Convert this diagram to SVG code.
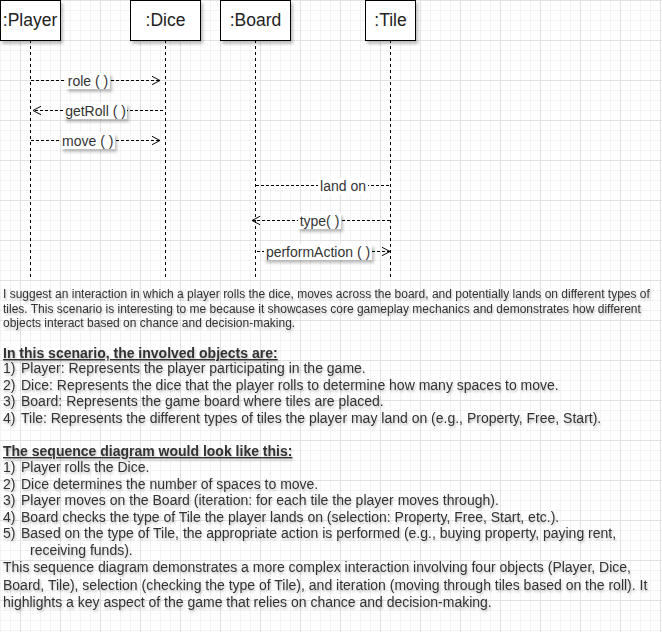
<svg xmlns="http://www.w3.org/2000/svg" width="662" height="632" viewBox="0 0 662 632">
<defs>
<pattern id="grid" width="40" height="40" patternUnits="userSpaceOnUse">
<path d="M0.5 0V40M10.5 0V40M30.5 0V40M0 10.5H40M0 20.5H40M0 30.5H40" stroke="#f3f3f3" stroke-width="1" fill="none"/>
<path d="M20.5 0V40M0 0.5H40" stroke="#e2e2e2" stroke-width="1" fill="none"/>
</pattern>
<filter id="sh" x="-20%" y="-20%" width="150%" height="160%">
<feDropShadow dx="2" dy="3" stdDeviation="1.5" flood-color="#000" flood-opacity="0.25"/>
</filter>
<filter id="tsh" x="-5%" y="-30%" width="110%" height="180%">
<feDropShadow dx="1" dy="2" stdDeviation="1" flood-color="#000" flood-opacity="0.25"/>
</filter>
<marker id="open" viewBox="0 0 10 10" refX="9" refY="5" markerWidth="10" markerHeight="10" markerUnits="userSpaceOnUse" orient="auto">
<path d="M1 0.8L9 5L1 9.2" fill="none" stroke="#000" stroke-width="1"/>
</marker>
<style>
.box{fill:#fff;stroke:#000;stroke-width:1;filter:url(#sh)}
.hd{font-family:"Liberation Sans",Arial,sans-serif;font-size:17.5px;fill:#222;text-anchor:middle}
.life{stroke:#000;stroke-width:1;stroke-dasharray:3 3;fill:none}
.msg{stroke:#000;stroke-width:1;stroke-dasharray:3 2;fill:none}
.lbg{fill:#fff;filter:url(#sh)}
.lbl{font-family:"Liberation Sans",Arial,sans-serif;font-size:14px;fill:#333;text-anchor:middle}
.body{font-family:"Liberation Sans",Arial,sans-serif;font-size:14px;fill:#333;filter:url(#tsh)}
.small{font-size:12px}
.h{font-weight:bold;text-decoration:underline}
</style>
</defs>
<rect width="662" height="632" fill="#fff"/>
<rect width="662" height="632" fill="url(#grid)"/>

<g id="player">
<line class="life" x1="30.5" y1="40" x2="30.5" y2="279"/>
<rect class="box" x="0.5" y="0.5" width="60" height="40"/>
<text class="hd" x="30" y="26">:Player</text>
</g>
<g id="dice">
<line class="life" x1="165.5" y1="40" x2="165.5" y2="279"/>
<rect class="box" x="130.5" y="0.5" width="70" height="40"/>
<text class="hd" x="165.5" y="26">:Dice</text>
</g>
<g id="board">
<line class="life" x1="255.5" y1="40" x2="255.5" y2="279"/>
<rect class="box" x="220.5" y="0.5" width="70" height="40"/>
<text class="hd" x="255.5" y="26">:Board</text>
</g>
<g id="tile">
<line class="life" x1="390.5" y1="40" x2="390.5" y2="279"/>
<rect class="box" x="365.5" y="0.5" width="50" height="40"/>
<text class="hd" x="390.5" y="26">:Tile</text>
</g>

<g id="connectors">
<line class="msg" x1="31" y1="80.5" x2="160" y2="80.5" marker-end="url(#open)"/>
<rect class="lbg" x="66" y="73" width="44" height="16"/>
<text class="lbl" x="88" y="86">role ( )</text>

<line class="msg" x1="163" y1="110.5" x2="33" y2="110.5" marker-end="url(#open)"/>
<rect class="lbg" x="64" y="103" width="63" height="16"/>
<text class="lbl" x="95.5" y="116">getRoll ( )</text>

<line class="msg" x1="31" y1="140.5" x2="160" y2="140.5" marker-end="url(#open)"/>
<rect class="lbg" x="61" y="133" width="54" height="16"/>
<text class="lbl" x="87.7" y="146">move ( )</text>

<line class="msg" x1="256" y1="185.5" x2="390" y2="185.5"/>
<rect x="318" y="178" width="50" height="16" fill="#fff"/>
<text class="lbl" x="343" y="191">land on</text>

<line class="msg" x1="390" y1="220.5" x2="252" y2="220.5" marker-end="url(#open)"/>
<rect class="lbg" x="298" y="213" width="43" height="16"/>
<text class="lbl" x="319.5" y="226">type( )</text>

<line class="msg" x1="257" y1="251.5" x2="390" y2="251.5" marker-end="url(#open)"/>
<rect class="lbg" x="264" y="244" width="108" height="16"/>
<text class="lbl" x="318" y="257">performAction ( )</text>
</g>

<g id="description" class="body">
<text x="3" y="298" class="small">I suggest an interaction in which a player rolls the dice, moves across the board, and potentially lands on different types of</text>
<text x="3" y="313" class="small">tiles. This scenario is interesting to me because it showcases core gameplay mechanics and demonstrates how different</text>
<text x="3" y="327" class="small">objects interact based on chance and decision-making.</text>

<text x="3" y="358" class="h">In this scenario, the involved objects are:</text>
<text x="3" y="373">1)</text><text x="21" y="373">Player: Represents the player participating in the game.</text>
<text x="3" y="389.5">2)</text><text x="21" y="389.5">Dice: Represents the dice that the player rolls to determine how many spaces to move.</text>
<text x="3" y="406">3)</text><text x="21" y="406">Board: Represents the game board where tiles are placed.</text>
<text x="3" y="422.5">4)</text><text x="21" y="422.5">Tile: Represents the different types of tiles the player may land on (e.g., Property, Free, Start).</text>

<text x="3" y="456" class="h">The sequence diagram would look like this:</text>
<text x="3" y="472">1)</text><text x="21" y="472">Player rolls the Dice.</text>
<text x="3" y="488.5">2)</text><text x="21" y="488.5">Dice determines the number of spaces to move.</text>
<text x="3" y="505">3)</text><text x="21" y="505">Player moves on the Board (iteration: for each tile the player moves through).</text>
<text x="3" y="521.5">4)</text><text x="21" y="521.5">Board checks the type of Tile the player lands on (selection: Property, Free, Start, etc.).</text>
<text x="3" y="538">5)</text><text x="21" y="538">Based on the type of Tile, the appropriate action is performed (e.g., buying property, paying rent,</text>
<text x="30" y="554.5">receiving funds).</text>
<text x="3" y="572">This sequence diagram demonstrates a more complex interaction involving four objects (Player, Dice,</text>
<text x="3" y="589.5">Board, Tile), selection (checking the type of Tile), and iteration (moving through tiles based on the roll). It</text>
<text x="3" y="607">highlights a key aspect of the game that relies on chance and decision-making.</text>
</g>
</svg>
